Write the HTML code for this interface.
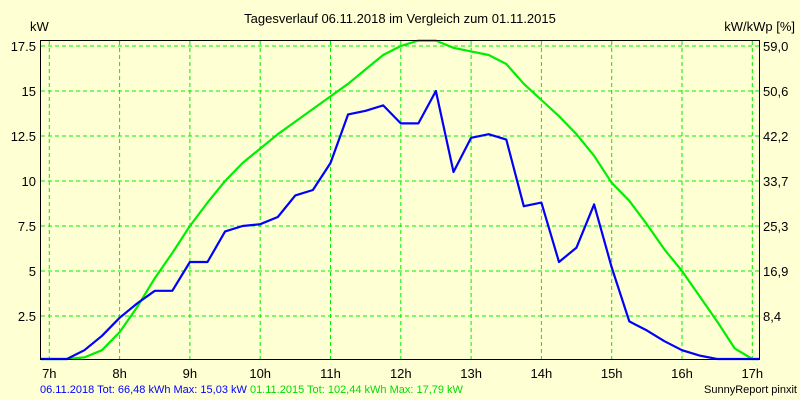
<!DOCTYPE html>
<html><head><meta charset="utf-8"><style>
html,body{margin:0;padding:0;background:#ffffd4;}
svg{display:block;font-family:"Liberation Sans",sans-serif;}
</style></head><body>
<svg id="chart" width="800" height="400">
<rect x="0" y="0" width="800" height="400" fill="#ffffd4"/>
<text x="400" y="23" font-size="13" text-anchor="middle" fill="#000">Tagesverlauf 06.11.2018 im Vergleich zum 01.11.2015</text>
<text x="30" y="31" font-size="13" fill="#000">kW</text>
<text x="795" y="31" font-size="13" text-anchor="end" fill="#000">kW/kWp [%]</text>
<g id="grid"></g>
<g id="series"></g>
<line x1="40" y1="40.5" x2="760" y2="40.5" stroke="#000"/>
<line x1="40.5" y1="40" x2="40.5" y2="360" stroke="#000"/>
<line x1="759.5" y1="40" x2="759.5" y2="360" stroke="#000"/>
<line x1="40" y1="359.5" x2="760" y2="359.5" stroke="#000"/>
<g id="labels"></g>
<text x="40" y="393" font-size="11"><tspan fill="#0000ff">06.11.2018 Tot: 66,48 kWh Max: 15,03 kW</tspan><tspan fill="#00dd00"> 01.11.2015 Tot: 102,44 kWh Max: 17,79 kW</tspan></text>
<text x="797" y="393" font-size="11" text-anchor="end" fill="#000">SunnyReport pinxit</text>
</svg>
<script>
const hourTicks=[7,8,9,10,11,12,13,14,15,16,17];
const kwTicks=[2.5,5,7.5,10,12.5,15,17.5];
const kwTickLabels=["2.5","5","7.5","10","12.5","15","17.5"];
const pctTickLabels=["8,4","16,9","25,3","33,7","42,2","50,6","59,0"];
const times=[6.875,7,7.25,7.5,7.75,8,8.25,8.5,8.75,9,9.25,9.5,9.75,10,10.25,10.5,10.75,11,11.25,11.5,11.75,12,12.25,12.5,12.75,13,13.25,13.5,13.75,14,14.25,14.5,14.75,15,15.25,15.5,15.75,16,16.25,16.5,16.75,17,17.125];
const series2018=[0,0,0.1,0.6,1.4,2.4,3.2,3.9,3.9,5.5,5.5,7.2,7.5,7.6,8.0,9.2,9.5,11.0,13.7,13.9,14.2,13.2,13.2,15.0,10.5,12.4,12.6,12.3,8.6,8.8,5.5,6.3,8.7,5.2,2.2,1.7,1.1,0.6,0.3,0,0,0,0];
const series2015=[0,0,0,0.2,0.6,1.6,3.0,4.6,6.0,7.5,8.8,10.0,11.0,11.8,12.6,13.3,14.0,14.7,15.4,16.2,17.0,17.5,17.8,17.8,17.4,17.2,17.0,16.5,15.4,14.5,13.6,12.6,11.4,9.9,8.9,7.6,6.2,5.0,3.6,2.2,0.7,0,0];
const NS="http://www.w3.org/2000/svg";
const xs=h=>Math.max(41,Math.min(759,49.3+(h-7)*70.3));
const ys=v=>Math.min(359,361-18*v);
function mk(tag,attrs,parent){const e=document.createElementNS(NS,tag);for(const k in attrs)e.setAttribute(k,attrs[k]);parent.appendChild(e);return e;}
const grid=document.getElementById('grid'),labels=document.getElementById('labels'),series=document.getElementById('series');
hourTicks.forEach(h=>{
  const l=mk('line',{x1:xs(h),y1:41,x2:xs(h),y2:359,stroke:'#00ee00','stroke-dasharray':'4,3'},grid);
  
  
  const t=mk('text',{x:xs(h),y:378,'font-size':13,'text-anchor':'middle'},labels);
  t.textContent=h+'h';
  
  
});
kwTicks.forEach((v,i)=>{
  const l=mk('line',{x1:41,y1:ys(v),x2:759,y2:ys(v),stroke:'#00ee00','stroke-dasharray':'4,3'},grid);
  
  
  const t=mk('text',{x:36,y:ys(v)+5,'font-size':13,'text-anchor':'end'},labels);
  t.textContent=kwTickLabels[i];
  
  
  const r=mk('text',{x:763,y:ys(v)+5,'font-size':13},labels);
  r.textContent=pctTickLabels[i];
  
  
});
function line(vals,color,name){
  const pts=vals.map((v,i)=>xs(times[i]).toFixed(1)+','+ys(v).toFixed(1)).join(' ');
  const p=mk('polyline',{points:pts,fill:'none',stroke:color,'stroke-width':2.2,'stroke-linejoin':'round'},series);
  
  
}
line(series2015,'#00ee00','line-2015');
line(series2018,'#0000ff','line-2018');
</script>
</body></html>
